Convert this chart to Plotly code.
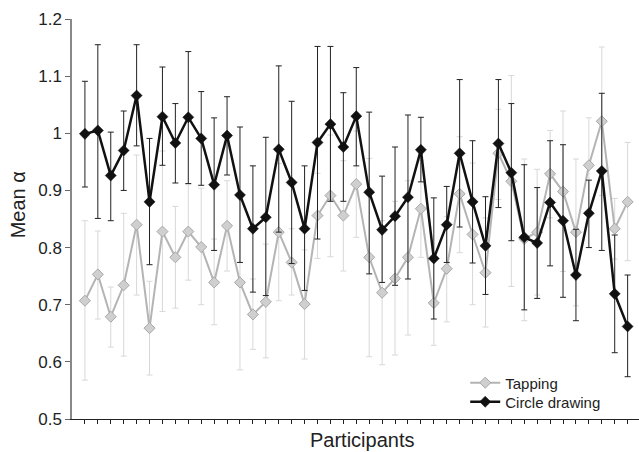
import plotly.graph_objects as go

participants = list(range(1, 44))

tap_mean = [0.707, 0.753, 0.679, 0.734, 0.840, 0.659, 0.828, 0.783, 0.828, 0.801,
            0.739, 0.838, 0.739, 0.683, 0.705, 0.827, 0.774, 0.701, 0.856, 0.891,
            0.856, 0.911, 0.783, 0.721, 0.746, 0.783, 0.868, 0.703, 0.763, 0.894,
            0.823, 0.756, 0.965, 0.916, 0.815, 0.827, 0.929, 0.898, 0.827, 0.944,
            1.021, 0.833, 0.880]
tap_upper = [0.847, 0.829, 0.731, 0.860, 0.962, 0.741, 0.969, 0.872, 0.910, 0.904,
             0.815, 0.917, 0.893, 0.745, 0.806, 0.947, 0.833, 0.796, 0.930, 0.997,
             0.952, 1.004, 0.956, 0.847, 0.881, 0.917, 0.952, 0.777, 0.854, 0.994,
             0.948, 0.852, 1.042, 1.101, 0.955, 0.937, 1.005, 1.039, 0.955, 1.027,
             1.151, 0.886, 0.984]
tap_lower = [0.568, 0.675, 0.626, 0.610, 0.717, 0.577, 0.688, 0.694, 0.743, 0.700,
             0.665, 0.759, 0.586, 0.622, 0.607, 0.707, 0.717, 0.605, 0.781, 0.784,
             0.759, 0.818, 0.609, 0.595, 0.612, 0.647, 0.783, 0.629, 0.670, 0.791,
             0.700, 0.661, 0.884, 0.732, 0.672, 0.717, 0.852, 0.758, 0.698, 0.863,
             0.891, 0.780, 0.777]

circ_mean = [0.999, 1.005, 0.926, 0.970, 1.066, 0.880, 1.029, 0.983, 1.028, 0.991,
             0.910, 0.996, 0.892, 0.833, 0.853, 0.972, 0.914, 0.833, 0.984, 1.016,
             0.976, 1.030, 0.897, 0.831, 0.855, 0.888, 0.971, 0.781, 0.840, 0.965,
             0.880, 0.803, 0.982, 0.931, 0.818, 0.808, 0.879, 0.847, 0.752, 0.860,
             0.934, 0.719, 0.662]
circ_upper = [1.091, 1.155, 1.002, 1.039, 1.155, 0.991, 1.116, 1.052, 1.143, 1.073,
              1.027, 1.064, 1.011, 0.943, 0.993, 1.118, 1.056, 0.943, 1.152, 1.152,
              1.071, 1.115, 1.037, 0.925, 0.976, 1.032, 1.028, 0.887, 0.907, 1.094,
              0.987, 0.889, 1.094, 1.052, 0.945, 0.905, 0.987, 0.980, 0.832, 0.918,
              1.070, 0.822, 0.752]
circ_lower = [0.906, 0.851, 0.847, 0.900, 0.978, 0.770, 0.944, 0.913, 0.912, 0.909,
              0.795, 0.927, 0.774, 0.722, 0.716, 0.827, 0.772, 0.725, 0.815, 0.881,
              0.881, 0.943, 0.754, 0.739, 0.734, 0.745, 0.915, 0.675, 0.774, 0.836,
              0.773, 0.718, 0.870, 0.812, 0.691, 0.711, 0.768, 0.713, 0.672, 0.800,
              0.795, 0.616, 0.574]

y_ticks = [0.5, 0.6, 0.7, 0.8, 0.9, 1.0, 1.1, 1.2]
y_tick_labels = ["0.5", "0.6", "0.7", "0.8", "0.9", "1", "1.1", "1.2"]

FONT = "Liberation Sans, Arial, Helvetica, sans-serif"

fig = go.Figure()
fig.add_trace(go.Scatter(
    x=participants, y=tap_mean, name="Tapping", mode="lines+markers",
    legend="legend",
    line=dict(color="#b4b4b4", width=2),
    marker=dict(symbol="diamond", size=8.5, color="#cfcfcf",
                line=dict(color="#a8a8a8", width=1)),
    error_y=dict(type="data", symmetric=False,
                 array=[u - m for u, m in zip(tap_upper, tap_mean)],
                 arrayminus=[m - l for m, l in zip(tap_mean, tap_lower)],
                 color="#d8d8d8", thickness=1, width=3),
))
fig.add_trace(go.Scatter(
    x=participants, y=circ_mean, name="Circle drawing", mode="lines+markers",
    legend="legend2",
    line=dict(color="#111111", width=2.5),
    marker=dict(symbol="diamond", size=8.5, color="#111111",
                line=dict(color="#111111", width=0.5)),
    error_y=dict(type="data", symmetric=False,
                 array=[u - m for u, m in zip(circ_upper, circ_mean)],
                 arrayminus=[m - l for m, l in zip(circ_mean, circ_lower)],
                 color="#222222", thickness=1, width=3),
))

legend_common = dict(xanchor="left", yanchor="middle",
                     font=dict(size=15, family=FONT, color="#222222"),
                     bgcolor="rgba(0,0,0,0)", itemwidth=30)

fig.update_layout(
    width=639, height=452,
    margin=dict(l=72, r=0, t=19, b=33),
    paper_bgcolor="white", plot_bgcolor="white",
    font=dict(family=FONT, color="#222222"),
    showlegend=True,
    legend=dict(x=0.6935, y=0.0901, **legend_common),
    legend2=dict(x=0.6935, y=0.0425, **legend_common),
    xaxis=dict(range=[0, 43.88], showgrid=False, zeroline=False,
               showline=True, linecolor="#222222", linewidth=1,
               tickmode="array", tickvals=participants, showticklabels=False,
               ticks="outside", ticklen=4, tickcolor="#222222", tickwidth=1),
    yaxis=dict(range=[0.5, 1.2], showgrid=False, zeroline=False,
               showline=True, linecolor="#888888", linewidth=1.5,
               tickmode="array", tickvals=y_ticks, ticktext=y_tick_labels,
               ticks="outside", ticklen=5, tickcolor="#666666", tickwidth=1,
               tickfont=dict(size=17, family=FONT, color="#222222")),
    annotations=[
        dict(text="Participants", xref="paper", yref="paper", x=0.5118, y=-0.0525,
             xanchor="center", yanchor="middle", showarrow=False,
             font=dict(size=20, family=FONT, color="#222222")),
        dict(text="Mean α", xref="paper", yref="paper", x=-0.0962, y=0.5354,
             xanchor="center", yanchor="middle", showarrow=False, textangle=-90,
             font=dict(size=20, family=FONT, color="#222222")),
    ],
)

fig.write_html("out.html")
